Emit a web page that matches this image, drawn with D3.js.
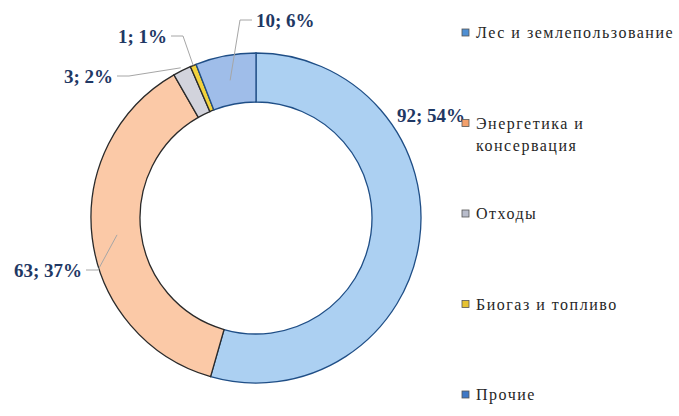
<!DOCTYPE html>
<html>
<head>
<meta charset="utf-8">
<script src="https://cdn.jsdelivr.net/npm/d3@7"></script>
<style>
  html, body { margin: 0; padding: 0; background: #fff; }
  svg { display: block; }
</style>
</head>
<body>
<div id="chart"></div>
<script>
'use strict';

// data
var categories = ['Лес и землепользование', 'Энергетика и консервация', 'Отходы', 'Биогаз и топливо', 'Прочие'];
var legendLines = [['Лес и землепользование'], ['Энергетика и', 'консервация'], ['Отходы'], ['Биогаз и топливо'], ['Прочие']];
var values = [92, 63, 3, 1, 10];
var percents = [54, 37, 2, 1, 6];

// styles
var fills = ['#acd0f2', '#fbc9a7', '#d2d3dc', '#f2d23c', '#9fbde9'];
var strokes = ['#1f4e86', '#2a2a2a', '#2a2a2a', '#2a2a2a', '#1f4e86'];
var legendFills = ['#4f8fd3', '#f3a06b', '#b8bccb', '#e6c232', '#3f78c6'];

var W = 679, H = 416
  , cx = 256, cy = 218
  , rOuter = 165, rInner = 116;

// label layout (label anchor points, leader radius)
var labelLayout = [
  { x: 397, y: 122, anchor: 'start', leader: false },
  { x: 82, y: 277, anchor: 'end', leader: true, r: 140, side: 'right' },
  { x: 113, y: 83, anchor: 'end', leader: true, r: 168, side: 'right' },
  { x: 167, y: 43, anchor: 'end', leader: true, r: 165, side: 'right' },
  { x: 256, y: 27, anchor: 'start', leader: true, r: 140, side: 'left' }
];

var svg = d3.select('#chart').append('svg')
    .attr('width', W)
    .attr('height', H);

var pie = d3.pie().sort(null).value(function (d) { return d; });
var arcs = pie(values);

var arc = d3.arc().innerRadius(rInner).outerRadius(rOuter);

var g = svg.append('g')
    .attr('transform', 'translate(' + cx + ',' + cy + ')');

g.selectAll('path.slice')
    .data(arcs)
  .enter().append('path')
    .attr('class', 'slice')
    .attr('d', arc)
    .style('fill', function (d, i) { return fills[i]; })
    .style('stroke', function (d, i) { return strokes[i]; })
    .style('stroke-width', 1.3);

// leader lines
arcs.forEach(function (d, i) {
  var lay = labelLayout[i];
  if (!lay.leader) return;
  var mid = (d.startAngle + d.endAngle) / 2;
  var px = Math.sin(mid) * lay.r
    , py = -Math.cos(mid) * lay.r;
  var lx = lay.x - cx + (lay.side === 'right' ? 4 : -4)
    , ly = lay.y - cy - 7;
  var ex = lx + (lay.side === 'right' ? 12 : -12);
  g.append('polyline')
    .attr('points', [[lx, ly], [ex, ly], [px, py]].map(function (p) { return p.join(','); }).join(' '))
    .style('fill', 'none')
    .style('stroke', '#a6a6a6')
    .style('stroke-width', 1);
});

// data labels
svg.selectAll('text.dlabel')
    .data(arcs)
  .enter().append('text')
    .attr('class', 'dlabel')
    .attr('x', function (d, i) { return labelLayout[i].x; })
    .attr('y', function (d, i) { return labelLayout[i].y; })
    .style('text-anchor', function (d, i) { return labelLayout[i].anchor; })
    .style('font-family', '"Liberation Serif", "Times New Roman", serif')
    .style('font-weight', 'bold')
    .style('font-size', '19px')
    .style('fill', '#1f3864')
    .text(function (d, i) { return values[i] + '; ' + percents[i] + '%'; });

// legend
var legendY = d3.scalePoint()
    .domain(categories)
    .range([38, 400]);

var legend = svg.append('g').attr('class', 'legend');
var items = legend.selectAll('g.item')
    .data(categories)
  .enter().append('g')
    .attr('class', 'item')
    .attr('transform', function (d) { return 'translate(462,' + legendY(d) + ')'; });

items.append('rect')
    .attr('x', 0)
    .attr('y', -9)
    .attr('width', 7)
    .attr('height', 7)
    .style('fill', function (d, i) { return legendFills[i]; })
    .style('stroke', '#555')
    .style('stroke-width', 0.8);

items.append('text')
    .attr('x', 14)
    .attr('y', 0)
    .style('font-family', '"Liberation Serif", "Times New Roman", serif')
    .style('font-size', '16px')
    .style('letter-spacing', '1.5px')
    .style('fill', '#262626')
    .selectAll('tspan')
    .data(function (d, i) { return legendLines[i]; })
  .enter().append('tspan')
    .attr('x', 14)
    .attr('dy', function (d, i) { return i === 0 ? 0 : 22; })
    .text(function (d) { return d; });
</script>
</body>
</html>
